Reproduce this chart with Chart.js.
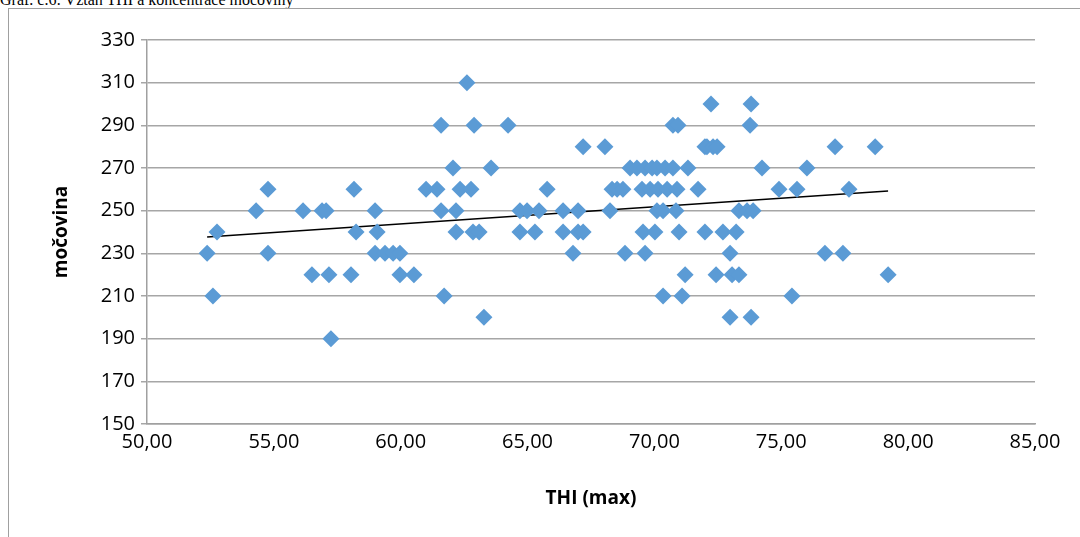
<!DOCTYPE html>
<html>
<head>
<meta charset="utf-8">
<script src="https://cdn.jsdelivr.net/npm/chart.js@4/dist/chart.umd.min.js"></script>
<style>
  body { margin: 0; background: #fff; width: 1080px; height: 537px; overflow: hidden; position: relative; }
  #cap { position: absolute; left: 0; top: -9px; font: 16px "Liberation Serif", serif; color: #000; }
  #frame { position: absolute; left: 8px; top: 8px; width: 1200px; height: 600px; border: 1px solid #a0a0a0; }
  canvas { position: absolute; left: 0; top: 0; }
</style>
</head>
<body>
<div id="cap">Graf. č.6: Vztah THI a koncentrace močoviny</div>
<div id="frame"></div>
<canvas id="c" width="1080" height="537"></canvas>
<script>
const thi = [
  52.37, 52.60, 52.76, 54.30, 54.77, 54.77, 56.15, 56.50, 56.90, 57.06, 57.17, 57.25,
  58.04, 58.16, 58.24, 58.99, 58.99, 59.07, 59.38, 59.70, 59.97, 59.97, 60.52,
  61.00, 61.43, 61.59, 61.59, 61.71, 62.06, 62.18, 62.18, 62.34, 62.61, 62.77, 62.85, 62.89, 63.09, 63.28, 63.56,
  64.23, 64.70, 64.70, 64.98, 65.29, 65.45, 65.77, 66.40, 66.40, 66.79, 66.99, 66.99, 67.19, 67.19,
  68.05, 68.25, 68.33, 68.53, 68.76, 68.84, 69.04, 69.31, 69.51, 69.55, 69.63, 69.63, 69.83, 69.91, 70.02,
  70.10, 70.10, 70.14, 70.34, 70.34, 70.42, 70.50, 70.73, 70.73, 70.85, 70.89, 70.93, 70.97, 71.09, 71.21, 71.32,
  71.72, 71.99, 71.99, 72.07, 72.23, 72.31, 72.43, 72.47, 72.70, 72.98, 72.98, 73.06, 73.22, 73.33, 73.33,
  73.65, 73.77, 73.81, 73.81, 73.89, 74.24, 74.91, 75.42, 75.62, 76.01, 76.72, 77.12, 77.43, 77.67, 78.70, 79.21
];
const urea = [
  230, 210, 240, 250, 260, 230, 250, 220, 250, 250, 220, 190,
  220, 260, 240, 250, 230, 240, 230, 230, 230, 220, 220,
  260, 260, 290, 250, 210, 270, 250, 240, 260, 310, 260, 240, 290, 240, 200, 270,
  290, 250, 240, 250, 240, 250, 260, 250, 240, 230, 250, 240, 280, 240,
  280, 250, 260, 260, 260, 230, 270, 270, 260, 240, 270, 230, 260, 270, 240,
  270, 250, 260, 210, 250, 270, 260, 290, 270, 250, 260, 290, 240, 210, 220, 270,
  260, 280, 240, 280, 300, 280, 220, 280, 240, 230, 200, 220, 240, 250, 220,
  250, 290, 300, 200, 250, 270, 260, 210, 260, 270, 230, 280, 230, 260, 280, 220
];
const trendX = [52.37, 79.21];
const trendY = [237.7, 259.2];
const xTicks = [50, 55, 60, 65, 70, 75, 80, 85];

const fmt = (v) => v.toFixed(2).replace(".", ",");

new Chart(document.getElementById("c"), {
  type: "scatter",
  data: {
    datasets: [
      {
        data: thi.map((x, i) => ({ x, y: urea[i] })),
        pointStyle: "rectRot",
        pointRadius: 8.5,
        backgroundColor: "#5b9bd5",
        borderColor: "#5b9bd5",
        borderWidth: 0,
      },
      {
        type: "line",
        data: trendX.map((x, i) => ({ x, y: trendY[i] })),
        borderColor: "#000",
        borderWidth: 1.5,
        pointRadius: 0,
        fill: false,
      },
    ],
  },
  options: {
    responsive: false,
    animation: false,
    layout: { padding: { left: 50, right: 45, top: 40, bottom: 27 } },
    plugins: { legend: { display: false }, tooltip: { enabled: false } },
    scales: {
      x: {
        type: "linear",
        min: 50,
        max: 85,
        afterBuildTicks: (s) => { s.ticks = xTicks.map((v) => ({ value: v })); },
        afterFit: (s) => { s.height = 86; },
        ticks: { callback: (v) => fmt(v), color: "#000", font: { family: "Open Sans", size: 20 }, padding: 0, maxRotation: 0 },
        grid: { display: false, drawTicks: true, tickLength: 6, color: "#a0a0a0" },
        border: { color: "#a0a0a0", width: 1.5 },
        title: { display: true, text: "THI (max)", color: "#000", font: { family: "Open Sans", size: 19, weight: "bold" }, padding: 0 },
      },
      y: {
        min: 150,
        max: 330,
        afterFit: (s) => { s.width = 97; },
        ticks: { stepSize: 20, color: "#000", font: { family: "Open Sans", size: 20 }, padding: 6 },
        grid: { color: "#a6a6a6", lineWidth: 1.5, tickLength: 6 },
        border: { color: "#a0a0a0", width: 1.5 },
        title: { display: true, text: "močovina", color: "#000", font: { family: "Open Sans", size: 19, weight: "bold" }, padding: 0 },
      },
    },
  },
});
</script>
</body>
</html>
